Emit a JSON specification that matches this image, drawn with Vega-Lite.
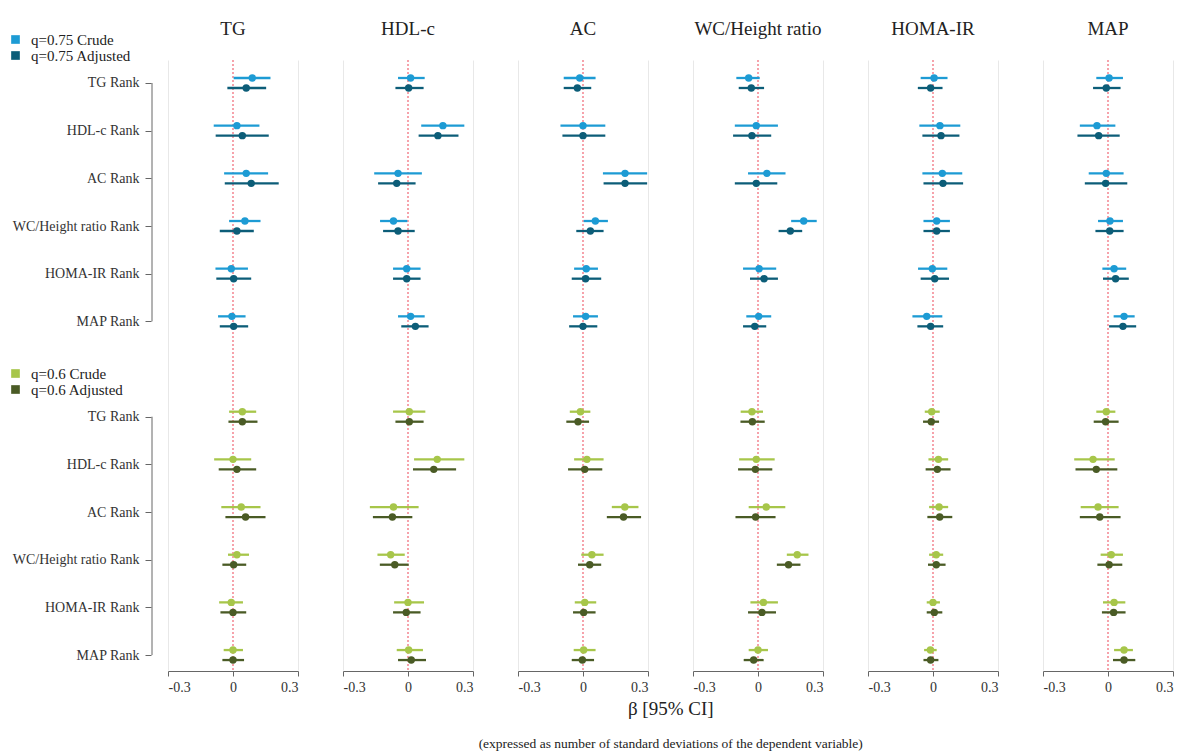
{
"$schema": "https://vega.github.io/schema/vega-lite/v6.json",
"background": "white",
"padding": {"left": 8, "top": 20, "right": 0, "bottom": 0},
"data": {"values": [
{"o":"TG","s":"q=0.75 Crude","m":"Crude","r":"q75|TG Rank","b":0.089,"l":0.003,"h":0.173},
{"o":"TG","s":"q=0.75 Adjusted","m":"Adjusted","r":"q75|TG Rank","b":0.061,"l":-0.026,"h":0.153},
{"o":"TG","s":"q=0.75 Crude","m":"Crude","r":"q75|HDL-c Rank","b":0.018,"l":-0.089,"h":0.122},
{"o":"TG","s":"q=0.75 Adjusted","m":"Adjusted","r":"q75|HDL-c Rank","b":0.043,"l":-0.080,"h":0.165},
{"o":"TG","s":"q=0.75 Crude","m":"Crude","r":"q75|AC Rank","b":0.061,"l":-0.041,"h":0.162},
{"o":"TG","s":"q=0.75 Adjusted","m":"Adjusted","r":"q75|AC Rank","b":0.084,"l":-0.038,"h":0.211},
{"o":"TG","s":"q=0.75 Crude","m":"Crude","r":"q75|WC/Height ratio Rank","b":0.055,"l":-0.018,"h":0.127},
{"o":"TG","s":"q=0.75 Adjusted","m":"Adjusted","r":"q75|WC/Height ratio Rank","b":0.018,"l":-0.061,"h":0.096},
{"o":"TG","s":"q=0.75 Crude","m":"Crude","r":"q75|HOMA-IR Rank","b":-0.008,"l":-0.081,"h":0.069},
{"o":"TG","s":"q=0.75 Adjusted","m":"Adjusted","r":"q75|HOMA-IR Rank","b":0.003,"l":-0.077,"h":0.084},
{"o":"TG","s":"q=0.75 Crude","m":"Crude","r":"q75|MAP Rank","b":-0.005,"l":-0.069,"h":0.058},
{"o":"TG","s":"q=0.75 Adjusted","m":"Adjusted","r":"q75|MAP Rank","b":0.003,"l":-0.061,"h":0.070},
{"o":"TG","s":"q=0.6 Crude","m":"Crude","r":"q60|TG Rank","b":0.043,"l":-0.018,"h":0.107},
{"o":"TG","s":"q=0.6 Adjusted","m":"Adjusted","r":"q60|TG Rank","b":0.043,"l":-0.021,"h":0.113},
{"o":"TG","s":"q=0.6 Crude","m":"Crude","r":"q60|HDL-c Rank","b":0.0,"l":-0.087,"h":0.084},
{"o":"TG","s":"q=0.6 Adjusted","m":"Adjusted","r":"q60|HDL-c Rank","b":0.018,"l":-0.066,"h":0.107},
{"o":"TG","s":"q=0.6 Crude","m":"Crude","r":"q60|AC Rank","b":0.038,"l":-0.054,"h":0.127},
{"o":"TG","s":"q=0.6 Adjusted","m":"Adjusted","r":"q60|AC Rank","b":0.058,"l":-0.035,"h":0.150},
{"o":"TG","s":"q=0.6 Crude","m":"Crude","r":"q60|WC/Height ratio Rank","b":0.018,"l":-0.023,"h":0.074},
{"o":"TG","s":"q=0.6 Adjusted","m":"Adjusted","r":"q60|WC/Height ratio Rank","b":0.003,"l":-0.049,"h":0.061},
{"o":"TG","s":"q=0.6 Crude","m":"Crude","r":"q60|HOMA-IR Rank","b":-0.008,"l":-0.064,"h":0.046},
{"o":"TG","s":"q=0.6 Adjusted","m":"Adjusted","r":"q60|HOMA-IR Rank","b":0.0,"l":-0.058,"h":0.061},
{"o":"TG","s":"q=0.6 Crude","m":"Crude","r":"q60|MAP Rank","b":0.0,"l":-0.043,"h":0.046},
{"o":"TG","s":"q=0.6 Adjusted","m":"Adjusted","r":"q60|MAP Rank","b":0.0,"l":-0.049,"h":0.051},

{"o":"HDL-c","s":"q=0.75 Crude","m":"Crude","r":"q75|TG Rank","b":0.012,"l":-0.046,"h":0.077},
{"o":"HDL-c","s":"q=0.75 Adjusted","m":"Adjusted","r":"q75|TG Rank","b":0.003,"l":-0.058,"h":0.072},
{"o":"HDL-c","s":"q=0.75 Crude","m":"Crude","r":"q75|HDL-c Rank","b":0.161,"l":0.061,"h":0.260},
{"o":"HDL-c","s":"q=0.75 Adjusted","m":"Adjusted","r":"q75|HDL-c Rank","b":0.138,"l":0.049,"h":0.233},
{"o":"HDL-c","s":"q=0.75 Crude","m":"Crude","r":"q75|AC Rank","b":-0.046,"l":-0.156,"h":0.064},
{"o":"HDL-c","s":"q=0.75 Adjusted","m":"Adjusted","r":"q75|AC Rank","b":-0.052,"l":-0.138,"h":0.035},
{"o":"HDL-c","s":"q=0.75 Crude","m":"Crude","r":"q75|WC/Height ratio Rank","b":-0.067,"l":-0.129,"h":-0.003},
{"o":"HDL-c","s":"q=0.75 Adjusted","m":"Adjusted","r":"q75|WC/Height ratio Rank","b":-0.046,"l":-0.115,"h":0.031},
{"o":"HDL-c","s":"q=0.75 Crude","m":"Crude","r":"q75|HOMA-IR Rank","b":-0.006,"l":-0.069,"h":0.058},
{"o":"HDL-c","s":"q=0.75 Adjusted","m":"Adjusted","r":"q75|HOMA-IR Rank","b":-0.006,"l":-0.069,"h":0.058},
{"o":"HDL-c","s":"q=0.75 Crude","m":"Crude","r":"q75|MAP Rank","b":0.012,"l":-0.046,"h":0.077},
{"o":"HDL-c","s":"q=0.75 Adjusted","m":"Adjusted","r":"q75|MAP Rank","b":0.034,"l":-0.031,"h":0.095},
{"o":"HDL-c","s":"q=0.6 Crude","m":"Crude","r":"q60|TG Rank","b":0.006,"l":-0.069,"h":0.080},
{"o":"HDL-c","s":"q=0.6 Adjusted","m":"Adjusted","r":"q60|TG Rank","b":0.006,"l":-0.058,"h":0.072},
{"o":"HDL-c","s":"q=0.6 Crude","m":"Crude","r":"q60|HDL-c Rank","b":0.135,"l":0.028,"h":0.260},
{"o":"HDL-c","s":"q=0.6 Adjusted","m":"Adjusted","r":"q60|HDL-c Rank","b":0.119,"l":0.023,"h":0.222},
{"o":"HDL-c","s":"q=0.6 Crude","m":"Crude","r":"q60|AC Rank","b":-0.067,"l":-0.176,"h":0.049},
{"o":"HDL-c","s":"q=0.6 Adjusted","m":"Adjusted","r":"q60|AC Rank","b":-0.072,"l":-0.162,"h":0.020},
{"o":"HDL-c","s":"q=0.6 Crude","m":"Crude","r":"q60|WC/Height ratio Rank","b":-0.080,"l":-0.141,"h":-0.015},
{"o":"HDL-c","s":"q=0.6 Adjusted","m":"Adjusted","r":"q60|WC/Height ratio Rank","b":-0.061,"l":-0.130,"h":0.003},
{"o":"HDL-c","s":"q=0.6 Crude","m":"Crude","r":"q60|HOMA-IR Rank","b":0.0,"l":-0.064,"h":0.074},
{"o":"HDL-c","s":"q=0.6 Adjusted","m":"Adjusted","r":"q60|HOMA-IR Rank","b":-0.008,"l":-0.069,"h":0.058},
{"o":"HDL-c","s":"q=0.6 Crude","m":"Crude","r":"q60|MAP Rank","b":0.003,"l":-0.052,"h":0.069},
{"o":"HDL-c","s":"q=0.6 Adjusted","m":"Adjusted","r":"q60|MAP Rank","b":0.015,"l":-0.046,"h":0.083},

{"o":"AC","s":"q=0.75 Crude","m":"Crude","r":"q75|TG Rank","b":-0.015,"l":-0.089,"h":0.058},
{"o":"AC","s":"q=0.75 Adjusted","m":"Adjusted","r":"q75|TG Rank","b":-0.026,"l":-0.089,"h":0.038},
{"o":"AC","s":"q=0.75 Crude","m":"Crude","r":"q75|HDL-c Rank","b":0.0,"l":-0.104,"h":0.103},
{"o":"AC","s":"q=0.75 Adjusted","m":"Adjusted","r":"q75|HDL-c Rank","b":0.0,"l":-0.095,"h":0.103},
{"o":"AC","s":"q=0.75 Crude","m":"Crude","r":"q75|AC Rank","b":0.194,"l":0.092,"h":0.296},
{"o":"AC","s":"q=0.75 Adjusted","m":"Adjusted","r":"q75|AC Rank","b":0.194,"l":0.095,"h":0.296},
{"o":"AC","s":"q=0.75 Crude","m":"Crude","r":"q75|WC/Height ratio Rank","b":0.057,"l":0.003,"h":0.115},
{"o":"AC","s":"q=0.75 Adjusted","m":"Adjusted","r":"q75|WC/Height ratio Rank","b":0.034,"l":-0.031,"h":0.095},
{"o":"AC","s":"q=0.75 Crude","m":"Crude","r":"q75|HOMA-IR Rank","b":0.015,"l":-0.041,"h":0.069},
{"o":"AC","s":"q=0.75 Adjusted","m":"Adjusted","r":"q75|HOMA-IR Rank","b":0.012,"l":-0.052,"h":0.084},
{"o":"AC","s":"q=0.75 Crude","m":"Crude","r":"q75|MAP Rank","b":0.012,"l":-0.046,"h":0.069},
{"o":"AC","s":"q=0.75 Adjusted","m":"Adjusted","r":"q75|MAP Rank","b":0.0,"l":-0.064,"h":0.066},
{"o":"AC","s":"q=0.6 Crude","m":"Crude","r":"q60|TG Rank","b":-0.012,"l":-0.061,"h":0.034},
{"o":"AC","s":"q=0.6 Adjusted","m":"Adjusted","r":"q60|TG Rank","b":-0.023,"l":-0.077,"h":0.028},
{"o":"AC","s":"q=0.6 Crude","m":"Crude","r":"q60|HDL-c Rank","b":0.018,"l":-0.041,"h":0.095},
{"o":"AC","s":"q=0.6 Adjusted","m":"Adjusted","r":"q60|HDL-c Rank","b":0.008,"l":-0.069,"h":0.089},
{"o":"AC","s":"q=0.6 Crude","m":"Crude","r":"q60|AC Rank","b":0.193,"l":0.133,"h":0.256},
{"o":"AC","s":"q=0.6 Adjusted","m":"Adjusted","r":"q60|AC Rank","b":0.187,"l":0.110,"h":0.268},
{"o":"AC","s":"q=0.6 Crude","m":"Crude","r":"q60|WC/Height ratio Rank","b":0.041,"l":-0.008,"h":0.095},
{"o":"AC","s":"q=0.6 Adjusted","m":"Adjusted","r":"q60|WC/Height ratio Rank","b":0.031,"l":-0.023,"h":0.084},
{"o":"AC","s":"q=0.6 Crude","m":"Crude","r":"q60|HOMA-IR Rank","b":0.008,"l":-0.038,"h":0.061},
{"o":"AC","s":"q=0.6 Adjusted","m":"Adjusted","r":"q60|HOMA-IR Rank","b":0.003,"l":-0.046,"h":0.058},
{"o":"AC","s":"q=0.6 Crude","m":"Crude","r":"q60|MAP Rank","b":0.003,"l":-0.043,"h":0.058},
{"o":"AC","s":"q=0.6 Adjusted","m":"Adjusted","r":"q60|MAP Rank","b":-0.003,"l":-0.052,"h":0.051},

{"o":"WC/Height ratio","s":"q=0.75 Crude","m":"Crude","r":"q75|TG Rank","b":-0.043,"l":-0.100,"h":0.008},
{"o":"WC/Height ratio","s":"q=0.75 Adjusted","m":"Adjusted","r":"q75|TG Rank","b":-0.031,"l":-0.089,"h":0.028},
{"o":"WC/Height ratio","s":"q=0.75 Crude","m":"Crude","r":"q75|HDL-c Rank","b":-0.008,"l":-0.107,"h":0.092},
{"o":"WC/Height ratio","s":"q=0.75 Adjusted","m":"Adjusted","r":"q75|HDL-c Rank","b":-0.028,"l":-0.115,"h":0.061},
{"o":"WC/Height ratio","s":"q=0.75 Crude","m":"Crude","r":"q75|AC Rank","b":0.041,"l":-0.046,"h":0.127},
{"o":"WC/Height ratio","s":"q=0.75 Adjusted","m":"Adjusted","r":"q75|AC Rank","b":-0.008,"l":-0.107,"h":0.089},
{"o":"WC/Height ratio","s":"q=0.75 Crude","m":"Crude","r":"q75|WC/Height ratio Rank","b":0.211,"l":0.153,"h":0.271},
{"o":"WC/Height ratio","s":"q=0.75 Adjusted","m":"Adjusted","r":"q75|WC/Height ratio Rank","b":0.149,"l":0.095,"h":0.204},
{"o":"WC/Height ratio","s":"q=0.75 Crude","m":"Crude","r":"q75|HOMA-IR Rank","b":0.005,"l":-0.069,"h":0.084},
{"o":"WC/Height ratio","s":"q=0.75 Adjusted","m":"Adjusted","r":"q75|HOMA-IR Rank","b":0.028,"l":-0.037,"h":0.092},
{"o":"WC/Height ratio","s":"q=0.75 Crude","m":"Crude","r":"q75|MAP Rank","b":0.003,"l":-0.054,"h":0.061},
{"o":"WC/Height ratio","s":"q=0.75 Adjusted","m":"Adjusted","r":"q75|MAP Rank","b":-0.015,"l":-0.069,"h":0.038},
{"o":"WC/Height ratio","s":"q=0.6 Crude","m":"Crude","r":"q60|TG Rank","b":-0.028,"l":-0.080,"h":0.023},
{"o":"WC/Height ratio","s":"q=0.6 Adjusted","m":"Adjusted","r":"q60|TG Rank","b":-0.026,"l":-0.081,"h":0.031},
{"o":"WC/Height ratio","s":"q=0.6 Crude","m":"Crude","r":"q60|HDL-c Rank","b":-0.008,"l":-0.087,"h":0.077},
{"o":"WC/Height ratio","s":"q=0.6 Adjusted","m":"Adjusted","r":"q60|HDL-c Rank","b":-0.012,"l":-0.092,"h":0.066},
{"o":"WC/Height ratio","s":"q=0.6 Crude","m":"Crude","r":"q60|AC Rank","b":0.038,"l":-0.043,"h":0.126},
{"o":"WC/Height ratio","s":"q=0.6 Adjusted","m":"Adjusted","r":"q60|AC Rank","b":-0.011,"l":-0.104,"h":0.081},
{"o":"WC/Height ratio","s":"q=0.6 Crude","m":"Crude","r":"q60|WC/Height ratio Rank","b":0.181,"l":0.133,"h":0.233},
{"o":"WC/Height ratio","s":"q=0.6 Adjusted","m":"Adjusted","r":"q60|WC/Height ratio Rank","b":0.141,"l":0.087,"h":0.196},
{"o":"WC/Height ratio","s":"q=0.6 Crude","m":"Crude","r":"q60|HOMA-IR Rank","b":0.025,"l":-0.035,"h":0.092},
{"o":"WC/Height ratio","s":"q=0.6 Adjusted","m":"Adjusted","r":"q60|HOMA-IR Rank","b":0.018,"l":-0.046,"h":0.083},
{"o":"WC/Height ratio","s":"q=0.6 Crude","m":"Crude","r":"q60|MAP Rank","b":0.0,"l":-0.043,"h":0.046},
{"o":"WC/Height ratio","s":"q=0.6 Adjusted","m":"Adjusted","r":"q60|MAP Rank","b":-0.020,"l":-0.066,"h":0.026},

{"o":"HOMA-IR","s":"q=0.75 Crude","m":"Crude","r":"q75|TG Rank","b":0.005,"l":-0.057,"h":0.067},
{"o":"HOMA-IR","s":"q=0.75 Adjusted","m":"Adjusted","r":"q75|TG Rank","b":-0.011,"l":-0.070,"h":0.044},
{"o":"HOMA-IR","s":"q=0.75 Crude","m":"Crude","r":"q75|HDL-c Rank","b":0.032,"l":-0.063,"h":0.126},
{"o":"HOMA-IR","s":"q=0.75 Adjusted","m":"Adjusted","r":"q75|HDL-c Rank","b":0.037,"l":-0.049,"h":0.122},
{"o":"HOMA-IR","s":"q=0.75 Crude","m":"Crude","r":"q75|AC Rank","b":0.043,"l":-0.049,"h":0.135},
{"o":"HOMA-IR","s":"q=0.75 Adjusted","m":"Adjusted","r":"q75|AC Rank","b":0.046,"l":-0.044,"h":0.139},
{"o":"HOMA-IR","s":"q=0.75 Crude","m":"Crude","r":"q75|WC/Height ratio Rank","b":0.017,"l":-0.044,"h":0.078},
{"o":"HOMA-IR","s":"q=0.75 Adjusted","m":"Adjusted","r":"q75|WC/Height ratio Rank","b":0.017,"l":-0.044,"h":0.078},
{"o":"HOMA-IR","s":"q=0.75 Crude","m":"Crude","r":"q75|HOMA-IR Rank","b":-0.003,"l":-0.069,"h":0.066},
{"o":"HOMA-IR","s":"q=0.75 Adjusted","m":"Adjusted","r":"q75|HOMA-IR Rank","b":0.008,"l":-0.057,"h":0.074},
{"o":"HOMA-IR","s":"q=0.75 Crude","m":"Crude","r":"q75|MAP Rank","b":-0.029,"l":-0.095,"h":0.043},
{"o":"HOMA-IR","s":"q=0.75 Adjusted","m":"Adjusted","r":"q75|MAP Rank","b":-0.011,"l":-0.072,"h":0.047},
{"o":"HOMA-IR","s":"q=0.6 Crude","m":"Crude","r":"q60|TG Rank","b":-0.006,"l":-0.038,"h":0.031},
{"o":"HOMA-IR","s":"q=0.6 Adjusted","m":"Adjusted","r":"q60|TG Rank","b":-0.008,"l":-0.046,"h":0.028},
{"o":"HOMA-IR","s":"q=0.6 Crude","m":"Crude","r":"q60|HDL-c Rank","b":0.025,"l":-0.021,"h":0.070},
{"o":"HOMA-IR","s":"q=0.6 Adjusted","m":"Adjusted","r":"q60|HDL-c Rank","b":0.020,"l":-0.034,"h":0.081},
{"o":"HOMA-IR","s":"q=0.6 Crude","m":"Crude","r":"q60|AC Rank","b":0.028,"l":-0.018,"h":0.070},
{"o":"HOMA-IR","s":"q=0.6 Adjusted","m":"Adjusted","r":"q60|AC Rank","b":0.031,"l":-0.026,"h":0.089},
{"o":"HOMA-IR","s":"q=0.6 Crude","m":"Crude","r":"q60|WC/Height ratio Rank","b":0.015,"l":-0.018,"h":0.047},
{"o":"HOMA-IR","s":"q=0.6 Adjusted","m":"Adjusted","r":"q60|WC/Height ratio Rank","b":0.015,"l":-0.023,"h":0.058},
{"o":"HOMA-IR","s":"q=0.6 Crude","m":"Crude","r":"q60|HOMA-IR Rank","b":0.0,"l":-0.029,"h":0.032},
{"o":"HOMA-IR","s":"q=0.6 Adjusted","m":"Adjusted","r":"q60|HOMA-IR Rank","b":0.006,"l":-0.029,"h":0.043},
{"o":"HOMA-IR","s":"q=0.6 Crude","m":"Crude","r":"q60|MAP Rank","b":-0.012,"l":-0.041,"h":0.017},
{"o":"HOMA-IR","s":"q=0.6 Adjusted","m":"Adjusted","r":"q60|MAP Rank","b":-0.011,"l":-0.044,"h":0.025},

{"o":"MAP","s":"q=0.75 Crude","m":"Crude","r":"q75|TG Rank","b":0.005,"l":-0.054,"h":0.069},
{"o":"MAP","s":"q=0.75 Adjusted","m":"Adjusted","r":"q75|TG Rank","b":-0.008,"l":-0.069,"h":0.058},
{"o":"MAP","s":"q=0.75 Crude","m":"Crude","r":"q75|HDL-c Rank","b":-0.051,"l":-0.130,"h":0.034},
{"o":"MAP","s":"q=0.75 Adjusted","m":"Adjusted","r":"q75|HDL-c Rank","b":-0.043,"l":-0.141,"h":0.054},
{"o":"MAP","s":"q=0.75 Crude","m":"Crude","r":"q75|AC Rank","b":-0.008,"l":-0.089,"h":0.072},
{"o":"MAP","s":"q=0.75 Adjusted","m":"Adjusted","r":"q75|AC Rank","b":-0.011,"l":-0.107,"h":0.089},
{"o":"MAP","s":"q=0.75 Crude","m":"Crude","r":"q75|WC/Height ratio Rank","b":0.009,"l":-0.046,"h":0.069},
{"o":"MAP","s":"q=0.75 Adjusted","m":"Adjusted","r":"q75|WC/Height ratio Rank","b":0.008,"l":-0.058,"h":0.072},
{"o":"MAP","s":"q=0.75 Crude","m":"Crude","r":"q75|HOMA-IR Rank","b":0.028,"l":-0.026,"h":0.084},
{"o":"MAP","s":"q=0.75 Adjusted","m":"Adjusted","r":"q75|HOMA-IR Rank","b":0.035,"l":-0.023,"h":0.096},
{"o":"MAP","s":"q=0.75 Crude","m":"Crude","r":"q75|MAP Rank","b":0.074,"l":0.026,"h":0.123},
{"o":"MAP","s":"q=0.75 Adjusted","m":"Adjusted","r":"q75|MAP Rank","b":0.069,"l":0.005,"h":0.130},
{"o":"MAP","s":"q=0.6 Crude","m":"Crude","r":"q60|TG Rank","b":-0.008,"l":-0.054,"h":0.034},
{"o":"MAP","s":"q=0.6 Adjusted","m":"Adjusted","r":"q60|TG Rank","b":-0.011,"l":-0.066,"h":0.049},
{"o":"MAP","s":"q=0.6 Crude","m":"Crude","r":"q60|HDL-c Rank","b":-0.069,"l":-0.156,"h":0.031},
{"o":"MAP","s":"q=0.6 Adjusted","m":"Adjusted","r":"q60|HDL-c Rank","b":-0.054,"l":-0.150,"h":0.043},
{"o":"MAP","s":"q=0.6 Crude","m":"Crude","r":"q60|AC Rank","b":-0.046,"l":-0.126,"h":0.049},
{"o":"MAP","s":"q=0.6 Adjusted","m":"Adjusted","r":"q60|AC Rank","b":-0.038,"l":-0.130,"h":0.058},
{"o":"MAP","s":"q=0.6 Crude","m":"Crude","r":"q60|WC/Height ratio Rank","b":0.015,"l":-0.034,"h":0.069},
{"o":"MAP","s":"q=0.6 Adjusted","m":"Adjusted","r":"q60|WC/Height ratio Rank","b":0.005,"l":-0.049,"h":0.066},
{"o":"MAP","s":"q=0.6 Crude","m":"Crude","r":"q60|HOMA-IR Rank","b":0.028,"l":-0.023,"h":0.080},
{"o":"MAP","s":"q=0.6 Adjusted","m":"Adjusted","r":"q60|HOMA-IR Rank","b":0.026,"l":-0.028,"h":0.081},
{"o":"MAP","s":"q=0.6 Crude","m":"Crude","r":"q60|MAP Rank","b":0.074,"l":0.028,"h":0.115},
{"o":"MAP","s":"q=0.6 Adjusted","m":"Adjusted","r":"q60|MAP Rank","b":0.074,"l":0.023,"h":0.126},

{"o":"TG","s":"axis","m":"axis","r":"q75|TG Rank","r2":"q75|MAP Rank"},
{"o":"TG","s":"axis","m":"axis","r":"q60|TG Rank","r2":"q60|MAP Rank"}
]},
"facet": {"column": {"field": "o", "type": "nominal", "sort": ["TG","HDL-c","AC","WC/Height ratio","HOMA-IR","MAP"], "title": null,
  "header": {"labelFont": "Liberation Serif", "labelFontSize": 19, "labelColor": "#222", "labelPadding": 20}}},
"spacing": {"column": 44},
"spec": {
  "width": 130,
  "height": 610,
  "layer": [
    {
      "transform": [{"filter": "datum.r == 'q75|TG Rank' && datum.m == 'Crude'"}],
      "mark": {"type": "rule", "color": "#f2727f", "strokeDash": [2, 2], "strokeWidth": 1.3},
      "encoding": {
        "x": {"datum": 0, "type": "quantitative", "title": null,
          "scale": {"domain": [-0.3, 0.3], "nice": false, "zero": false},
          "axis": {"values": [-0.3, -0.15, 0, 0.15, 0.3],
            "labelExpr": "datum.value == -0.3 ? '-0.3' : datum.value == 0 ? '0' : datum.value == 0.3 ? '0.3' : ''",
            "gridOpacity": {"condition": {"test": "datum.value == 0", "value": 0}, "value": 1}}}
      }
    },
    {
      "transform": [{"filter": "datum.s == 'axis'"}],
      "mark": {"type": "rule", "color": "#666", "strokeWidth": 1, "xOffset": -16},
      "encoding": {
        "x": {"datum": -0.3, "type": "quantitative", "title": null},
        "y": {"field": "r", "type": "nominal"},
        "y2": {"field": "r2"}
      }
    },
    {
      "transform": [{"filter": "datum.s == 'q=0.75 Crude' || datum.s == 'q=0.75 Adjusted'"}],
      "encoding": {
        "y": {"field": "r", "type": "nominal", "title": null,
          "scale": {"type": "point", "domain": ["q75|TG Rank","q75|HDL-c Rank","q75|AC Rank","q75|WC/Height ratio Rank","q75|HOMA-IR Rank","q75|MAP Rank","gap","q60|TG Rank","q60|HDL-c Rank","q60|AC Rank","q60|WC/Height ratio Rank","q60|HOMA-IR Rank","q60|MAP Rank"], "padding": 0.398, "align": 0.606},
          "axis": {"labelExpr": "indexof(datum.value, '|') >= 0 ? split(datum.value, '|')[1] : ''",
            "tickOpacity": {"condition": {"test": "datum.value == 'gap'", "value": 0}, "value": 1}}},
        "color": {"field": "s", "type": "nominal",
          "scale": {"domain": ["q=0.75 Crude", "q=0.75 Adjusted"], "range": ["#1d9bd4", "#0c5d78"]},
          "legend": {"title": null, "orient": "none", "legendX": -160, "legendY": -28}}
      },
      "layer": [
        {"transform": [{"filter": "datum.m == 'Crude'"}], "mark": {"type": "rule", "strokeWidth": 2.3, "yOffset": -5},
         "encoding": {"x": {"field": "l", "type": "quantitative", "title": null}, "x2": {"field": "h"}}},
        {"transform": [{"filter": "datum.m == 'Crude'"}], "mark": {"type": "circle", "size": 55, "opacity": 1, "yOffset": -5},
         "encoding": {"x": {"field": "b", "type": "quantitative", "title": null}}},
        {"transform": [{"filter": "datum.m == 'Adjusted'"}], "mark": {"type": "rule", "strokeWidth": 2.3, "yOffset": 5},
         "encoding": {"x": {"field": "l", "type": "quantitative", "title": null}, "x2": {"field": "h"}}},
        {"transform": [{"filter": "datum.m == 'Adjusted'"}], "mark": {"type": "circle", "size": 55, "opacity": 1, "yOffset": 5},
         "encoding": {"x": {"field": "b", "type": "quantitative", "title": null}}}
      ]
    },
    {
      "transform": [{"filter": "datum.s == 'q=0.6 Crude' || datum.s == 'q=0.6 Adjusted'"}],
      "encoding": {
        "y": {"field": "r", "type": "nominal", "title": null}
      },
      "layer": [
        {"transform": [{"filter": "datum.m == 'Crude'"}], "mark": {"type": "rule", "strokeWidth": 2.3, "yOffset": -5},
         "encoding": {"x": {"field": "l", "type": "quantitative", "title": null}, "x2": {"field": "h"},
           "stroke": {"field": "s", "type": "nominal", "scale": {"domain": ["q=0.6 Crude", "q=0.6 Adjusted"], "range": ["#a7c64a", "#4a5b25"]}}}},
        {"transform": [{"filter": "datum.m == 'Crude'"}], "mark": {"type": "circle", "size": 55, "opacity": 1, "yOffset": -5},
         "encoding": {"x": {"field": "b", "type": "quantitative", "title": null},
           "fill": {"field": "s", "type": "nominal", "scale": {"domain": ["q=0.6 Crude", "q=0.6 Adjusted"], "range": ["#a7c64a", "#4a5b25"]},
             "legend": {"title": null, "orient": "none", "legendX": -160, "legendY": 306}}}},
        {"transform": [{"filter": "datum.m == 'Adjusted'"}], "mark": {"type": "rule", "strokeWidth": 2.3, "yOffset": 5},
         "encoding": {"x": {"field": "l", "type": "quantitative", "title": null}, "x2": {"field": "h"},
           "stroke": {"field": "s", "type": "nominal"}}},
        {"transform": [{"filter": "datum.m == 'Adjusted'"}], "mark": {"type": "circle", "size": 55, "opacity": 1, "yOffset": 5},
         "encoding": {"x": {"field": "b", "type": "quantitative", "title": null},
           "fill": {"field": "s", "type": "nominal"}}}
      ]
    }
  ]
},
"title": {"text": "β [95% CI]", "subtitle": "(expressed as number of standard deviations of the dependent variable)",
  "orient": "bottom", "anchor": "middle", "frame": "bounds", "dx": 80, "font": "Liberation Serif", "fontSize": 19, "fontWeight": "normal", "color": "#222",
  "subtitleFont": "Liberation Serif", "subtitleFontSize": 13.5, "subtitleColor": "#222", "subtitlePadding": 18, "offset": 6},
"config": {
  "font": "Liberation Serif",
  "view": {"stroke": null},
  "axisX": {"labelFont": "Liberation Serif", "labelFontSize": 14, "labelColor": "#333", "domainColor": "#666", "tickColor": "#666", "tickSize": 5, "labelPadding": 4, "grid": true, "gridColor": "#e8e8e8", "gridWidth": 1},
  "axisY": {"labelFont": "Liberation Serif", "labelFontSize": 14, "labelColor": "#333", "domain": false, "tickColor": "#666", "tickSize": 6, "labelPadding": 6, "offset": 0, "grid": false},
  "legend": {"labelFont": "Liberation Serif", "labelFontSize": 15, "labelColor": "#222", "symbolType": "square", "symbolSize": 75, "symbolStrokeWidth": 0, "rowPadding": 0, "labelOffset": 8, "padding": 0}
}
}
